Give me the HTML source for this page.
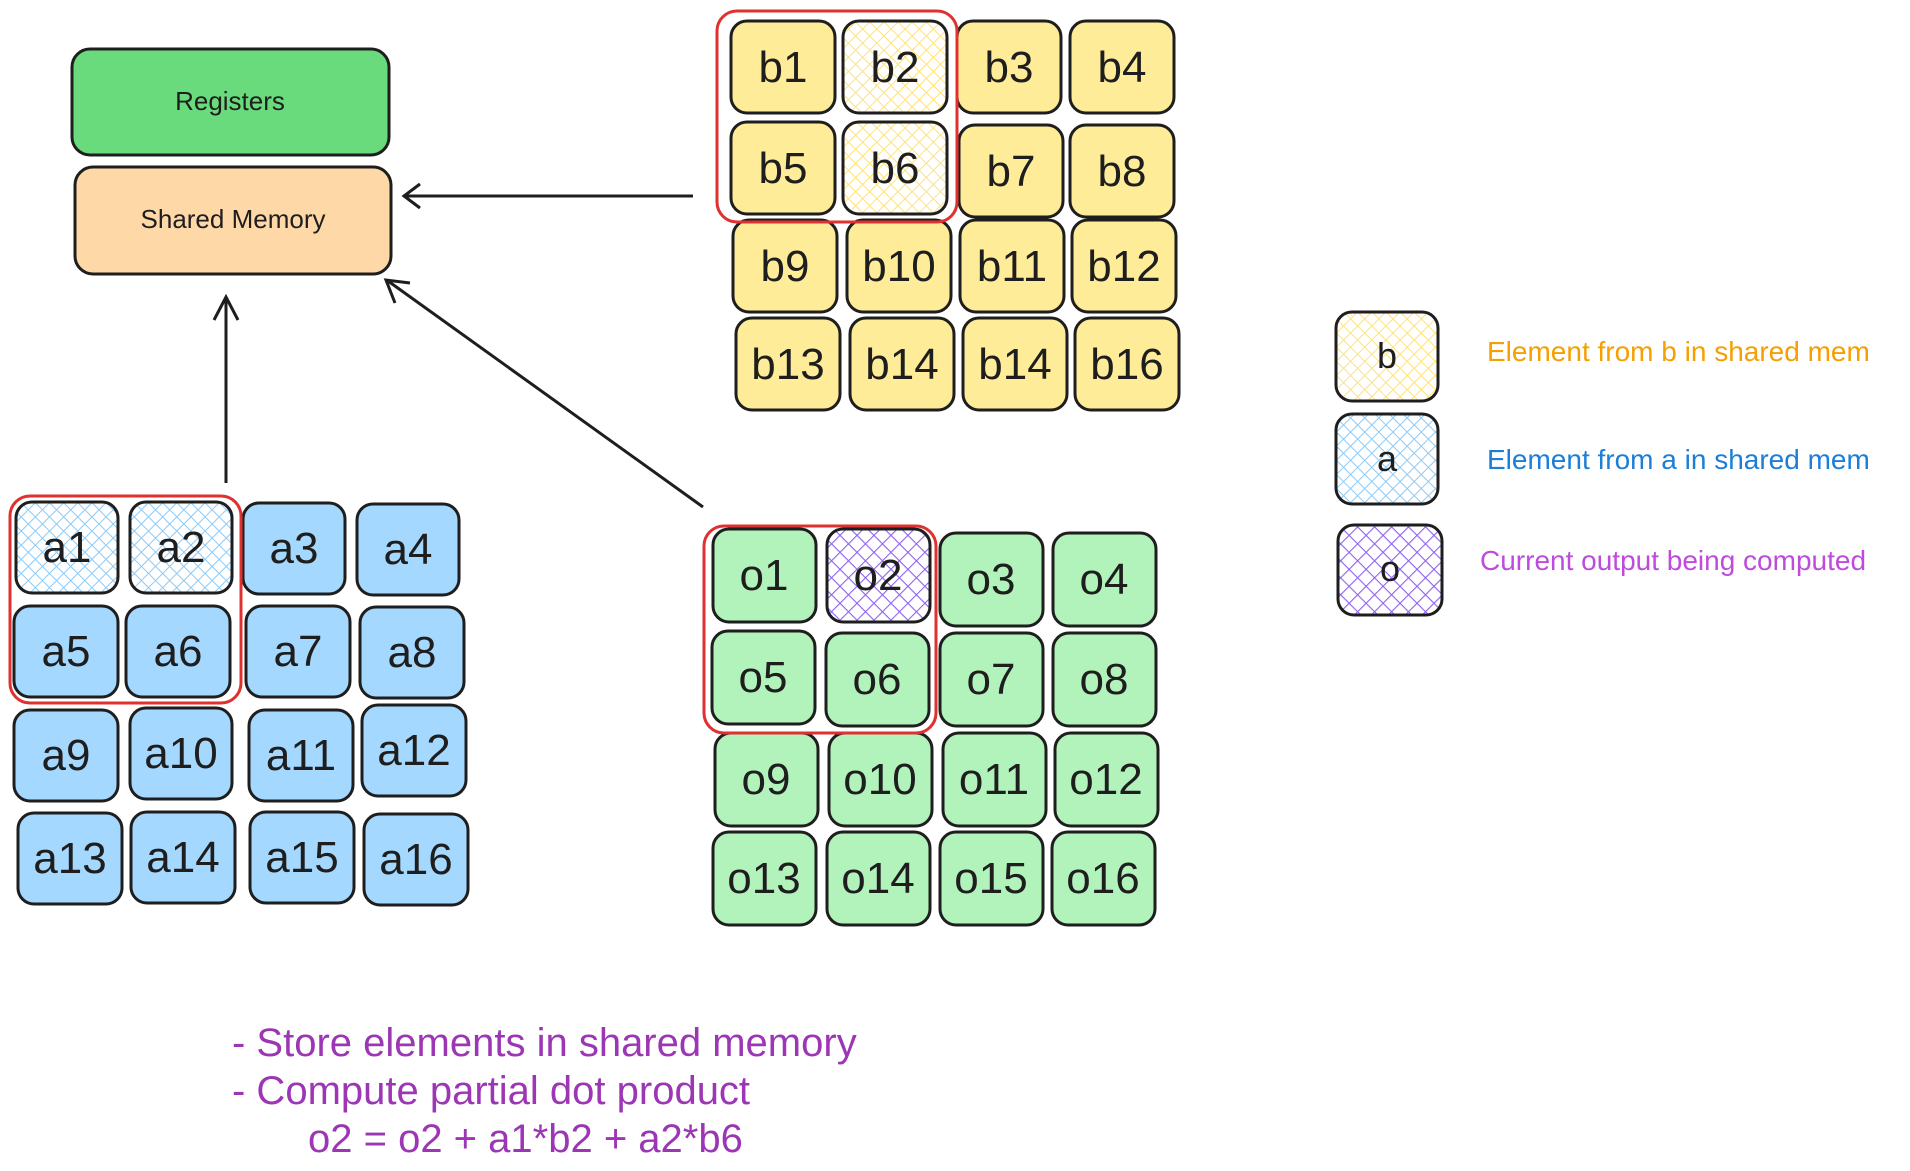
<!DOCTYPE html>
<html><head><meta charset="utf-8"><style>
html,body{margin:0;padding:0;background:#fff}
svg{display:block}
text{font-family:"Liberation Sans",sans-serif}
</style></head><body>
<svg width="1910" height="1171" viewBox="0 0 1910 1171" xmlns="http://www.w3.org/2000/svg">
<defs>
<pattern id="hy" width="10" height="10" patternUnits="userSpaceOnUse" patternTransform="rotate(45)"><rect width="10" height="10" fill="#fff"/><path d="M0 0V10M0 0H10" stroke="#ffe27a" stroke-width="2"/></pattern>
<pattern id="hb" width="10" height="10" patternUnits="userSpaceOnUse" patternTransform="rotate(45)"><rect width="10" height="10" fill="#fff"/><path d="M0 0V10M0 0H10" stroke="#8ccaf8" stroke-width="2"/></pattern>
<pattern id="hp" width="12" height="12" patternUnits="userSpaceOnUse" patternTransform="rotate(45)"><rect width="12" height="12" fill="#fff"/><path d="M0 0V12M0 0H12" stroke="#8f64f0" stroke-width="2.2"/></pattern>
</defs>
<g stroke="#1e1e1e" stroke-width="3">
<rect x="72" y="49" width="317" height="106" rx="18" fill="#69db7c"/>
<rect x="75" y="167" width="316" height="107" rx="18" fill="#ffd8a8"/>
</g>
<text x="230" y="110" font-size="26" text-anchor="middle" fill="#1e1e1e">Registers</text>
<text x="233" y="228" font-size="26" text-anchor="middle" fill="#1e1e1e">Shared Memory</text>
<g stroke="#1e1e1e" stroke-width="3" fill="none">
<line x1="226" y1="483" x2="226" y2="299"/>
<path d="M214 320L226 297L238 320"/>
<line x1="703" y1="507" x2="388" y2="281"/>
<path d="M395 303L386 280L410 283"/>
<path d="M420 184L404 196L420 208"/>
<line x1="693" y1="196" x2="406" y2="196"/>
</g>
<g stroke="#1e1e1e" stroke-width="3">
<rect x="731" y="21" width="104" height="92" rx="16" fill="#ffec99"/><rect x="843" y="21" width="104" height="92" rx="16" fill="url(#hy)"/><rect x="957" y="21" width="104" height="92" rx="16" fill="#ffec99"/><rect x="1070" y="21" width="104" height="92" rx="16" fill="#ffec99"/>
<rect x="731" y="122" width="104" height="92" rx="16" fill="#ffec99"/><rect x="843" y="122" width="104" height="92" rx="16" fill="url(#hy)"/><rect x="959" y="125" width="104" height="92" rx="16" fill="#ffec99"/><rect x="1070" y="125" width="104" height="92" rx="16" fill="#ffec99"/>
<rect x="733" y="220" width="104" height="92" rx="16" fill="#ffec99"/><rect x="847" y="220" width="104" height="92" rx="16" fill="#ffec99"/><rect x="960" y="220" width="104" height="92" rx="16" fill="#ffec99"/><rect x="1072" y="220" width="104" height="92" rx="16" fill="#ffec99"/>
<rect x="736" y="318" width="104" height="92" rx="16" fill="#ffec99"/><rect x="850" y="318" width="104" height="92" rx="16" fill="#ffec99"/><rect x="963" y="318" width="104" height="92" rx="16" fill="#ffec99"/><rect x="1075" y="318" width="104" height="92" rx="16" fill="#ffec99"/>
<rect x="16" y="502" width="102" height="91" rx="16" fill="url(#hb)"/><rect x="130" y="502" width="102" height="91" rx="16" fill="url(#hb)"/><rect x="243" y="503" width="102" height="91" rx="16" fill="#a5d8ff"/><rect x="357" y="504" width="102" height="91" rx="16" fill="#a5d8ff"/>
<rect x="14" y="606" width="104" height="91" rx="16" fill="#a5d8ff"/><rect x="126" y="606" width="104" height="91" rx="16" fill="#a5d8ff"/><rect x="246" y="606" width="104" height="91" rx="16" fill="#a5d8ff"/><rect x="360" y="607" width="104" height="91" rx="16" fill="#a5d8ff"/>
<rect x="14" y="710" width="104" height="91" rx="16" fill="#a5d8ff"/><rect x="130" y="708" width="102" height="91" rx="16" fill="#a5d8ff"/><rect x="249" y="710" width="104" height="91" rx="16" fill="#a5d8ff"/><rect x="362" y="705" width="104" height="91" rx="16" fill="#a5d8ff"/>
<rect x="18" y="813" width="104" height="91" rx="16" fill="#a5d8ff"/><rect x="131" y="812" width="104" height="91" rx="16" fill="#a5d8ff"/><rect x="250" y="812" width="104" height="91" rx="16" fill="#a5d8ff"/><rect x="364" y="814" width="104" height="91" rx="16" fill="#a5d8ff"/>
<rect x="713" y="529" width="103" height="93" rx="16" fill="#b2f2bb"/><rect x="827" y="529" width="103" height="93" rx="16" fill="url(#hp)"/><rect x="940" y="533" width="103" height="93" rx="16" fill="#b2f2bb"/><rect x="1053" y="533" width="103" height="93" rx="16" fill="#b2f2bb"/>
<rect x="712" y="631" width="103" height="93" rx="16" fill="#b2f2bb"/><rect x="826" y="633" width="103" height="93" rx="16" fill="#b2f2bb"/><rect x="940" y="633" width="103" height="93" rx="16" fill="#b2f2bb"/><rect x="1053" y="633" width="103" height="93" rx="16" fill="#b2f2bb"/>
<rect x="715" y="733" width="103" height="93" rx="16" fill="#b2f2bb"/><rect x="829" y="733" width="103" height="93" rx="16" fill="#b2f2bb"/><rect x="943" y="733" width="103" height="93" rx="16" fill="#b2f2bb"/><rect x="1055" y="733" width="103" height="93" rx="16" fill="#b2f2bb"/>
<rect x="713" y="832" width="103" height="93" rx="16" fill="#b2f2bb"/><rect x="827" y="832" width="103" height="93" rx="16" fill="#b2f2bb"/><rect x="940" y="832" width="103" height="93" rx="16" fill="#b2f2bb"/><rect x="1052" y="832" width="103" height="93" rx="16" fill="#b2f2bb"/>
<rect x="1336" y="312" width="102" height="89" rx="16" fill="url(#hy)"/>
<rect x="1336" y="414" width="102" height="90" rx="16" fill="url(#hb)"/>
<rect x="1338" y="525" width="104" height="90" rx="16" fill="url(#hp)"/>
</g>
<g fill="none" stroke="#e03131" stroke-width="3">
<rect x="717" y="11" width="240" height="211" rx="20"/>
<rect x="10" y="496" width="231" height="207" rx="20"/>
<rect x="704" y="526" width="232" height="207" rx="20"/>
</g>
<g font-size="44" text-anchor="middle" fill="#1e1e1e">
<text x="783" y="82">b1</text><text x="895" y="82">b2</text><text x="1009" y="82">b3</text><text x="1122" y="82">b4</text>
<text x="783" y="183">b5</text><text x="895" y="183">b6</text><text x="1011" y="186">b7</text><text x="1122" y="186">b8</text>
<text x="785" y="281">b9</text><text x="899" y="281">b10</text><text x="1012" y="281">b11</text><text x="1124" y="281">b12</text>
<text x="788" y="379">b13</text><text x="902" y="379">b14</text><text x="1015" y="379">b14</text><text x="1127" y="379">b16</text>
<text x="67" y="562">a1</text><text x="181" y="562">a2</text><text x="294" y="563">a3</text><text x="408" y="564">a4</text>
<text x="66" y="666">a5</text><text x="178" y="666">a6</text><text x="298" y="666">a7</text><text x="412" y="667">a8</text>
<text x="66" y="770">a9</text><text x="181" y="768">a10</text><text x="301" y="770">a11</text><text x="414" y="765">a12</text>
<text x="70" y="873">a13</text><text x="183" y="872">a14</text><text x="302" y="872">a15</text><text x="416" y="874">a16</text>
<text x="764" y="590">o1</text><text x="878" y="590">o2</text><text x="991" y="594">o3</text><text x="1104" y="594">o4</text>
<text x="763" y="692">o5</text><text x="877" y="694">o6</text><text x="991" y="694">o7</text><text x="1104" y="694">o8</text>
<text x="766" y="794">o9</text><text x="880" y="794">o10</text><text x="994" y="794">o11</text><text x="1106" y="794">o12</text>
<text x="764" y="893">o13</text><text x="878" y="893">o14</text><text x="991" y="893">o15</text><text x="1103" y="893">o16</text>
</g>
<g font-size="36" text-anchor="middle" fill="#1e1e1e">
<text x="1387" y="368">b</text><text x="1387" y="471">a</text><text x="1390" y="581">o</text>
</g>
<g font-size="28">
<text x="1487" y="361" fill="#f59f00">Element from b in shared mem</text>
<text x="1487" y="469" fill="#1c7ed6">Element from a in shared mem</text>
<text x="1480" y="570" fill="#be4bdb">Current output being computed</text>
</g>
<g font-size="40" fill="#9c36b5">
<text x="232" y="1056">- Store elements in shared memory</text>
<text x="232" y="1104">- Compute partial dot product</text>
<text x="308" y="1152">o2 = o2 + a1*b2 + a2*b6</text>
</g>
</svg>
</body></html>
